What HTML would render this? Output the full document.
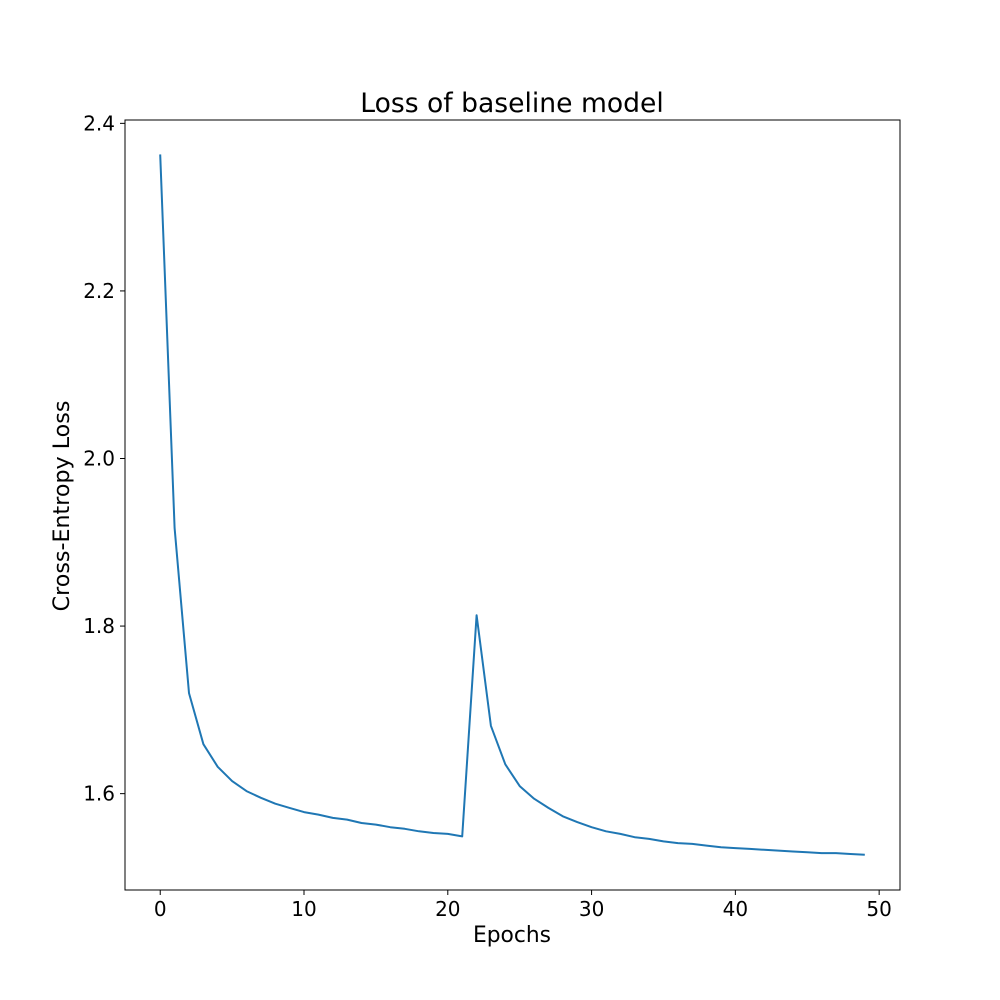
<!DOCTYPE html>
<html><head><meta charset="utf-8"><style>
html,body{margin:0;padding:0;background:#fff;}
svg{display:block;font-family:"DejaVu Sans","Liberation Sans",sans-serif;}
</style></head><body>
<svg id="chart" width="1000" height="1000" viewBox="0 0 1000 1000">
<rect x="0" y="0" width="1000" height="1000" fill="#fff"/>
<text x="512" y="112" font-size="26.6" text-anchor="middle" fill="#000">Loss of baseline model</text>
<g id="xticks"></g>
<g id="yticks"></g>
<path id="line" fill="none" stroke="#1f77b4" stroke-width="2" stroke-linejoin="round"/>
<rect x="125" y="120" width="775" height="770" fill="none" stroke="#000" stroke-width="1"/>
<text x="512" y="942" font-size="21.8" text-anchor="middle">Epochs</text>
<text transform="translate(69,506) rotate(-90)" font-size="22.2" text-anchor="middle">Cross-Entropy Loss</text>
</svg>
<script>
const epochs = [0,1,2,3,4,5,6,7,8,9,10,11,12,13,14,15,16,17,18,19,20,21,22,23,24,25,26,27,28,29,30,31,32,33,34,35,36,37,38,39,40,41,42,43,44,45,46,47,48,49];
const loss = [2.363,1.917,1.720,1.659,1.632,1.615,1.603,1.595,1.588,1.583,1.578,1.575,1.571,1.569,1.565,1.563,1.560,1.558,1.555,1.553,1.552,1.549,1.813,1.681,1.635,1.609,1.594,1.583,1.573,1.566,1.560,1.555,1.552,1.548,1.546,1.543,1.541,1.540,1.538,1.536,1.535,1.534,1.533,1.532,1.531,1.530,1.529,1.529,1.528,1.527];
const xTicks = [0,10,20,30,40,50];
const yTicks = [1.6,1.8,2.0,2.2,2.4];
const yTickLabels = ["1.6","1.8","2.0","2.2","2.4"];

const L=125,R=900,T=120,B=890;
const xmin=-2.45,xmax=51.45,ymin=1.485,ymax=2.404;
const X=v=>L+(v-xmin)/(xmax-xmin)*(R-L);
const Y=v=>B-(v-ymin)/(ymax-ymin)*(B-T);
const NS="http://www.w3.org/2000/svg";
const xg=document.getElementById('xticks'), yg=document.getElementById('yticks');
xTicks.forEach(t=>{
  const l=document.createElementNS(NS,'line');
  l.setAttribute('x1',X(t));l.setAttribute('x2',X(t));l.setAttribute('y1',B);l.setAttribute('y2',B+5);l.setAttribute('stroke','#000');
  
  
  xg.appendChild(l);
  const s=document.createElementNS(NS,'text');
  s.setAttribute('x',X(t));s.setAttribute('y',B+26);s.setAttribute('font-size','20');s.setAttribute('text-anchor','middle');
  s.textContent=t;
  
  
  xg.appendChild(s);
});
yTicks.forEach((t,i)=>{
  const l=document.createElementNS(NS,'line');
  l.setAttribute('x1',L-5);l.setAttribute('x2',L);l.setAttribute('y1',Y(t));l.setAttribute('y2',Y(t));l.setAttribute('stroke','#000');
  
  
  yg.appendChild(l);
  const s=document.createElementNS(NS,'text');
  s.setAttribute('x',L-10);s.setAttribute('y',Y(t)+7);s.setAttribute('font-size','20');s.setAttribute('text-anchor','end');
  s.textContent=yTickLabels[i];
  
  
  yg.appendChild(s);
});
document.getElementById('line').setAttribute('d',epochs.map((e,i)=>(i?'L':'M')+X(e).toFixed(1)+','+Y(loss[i]).toFixed(1)).join(' '));
</script>
</body></html>
